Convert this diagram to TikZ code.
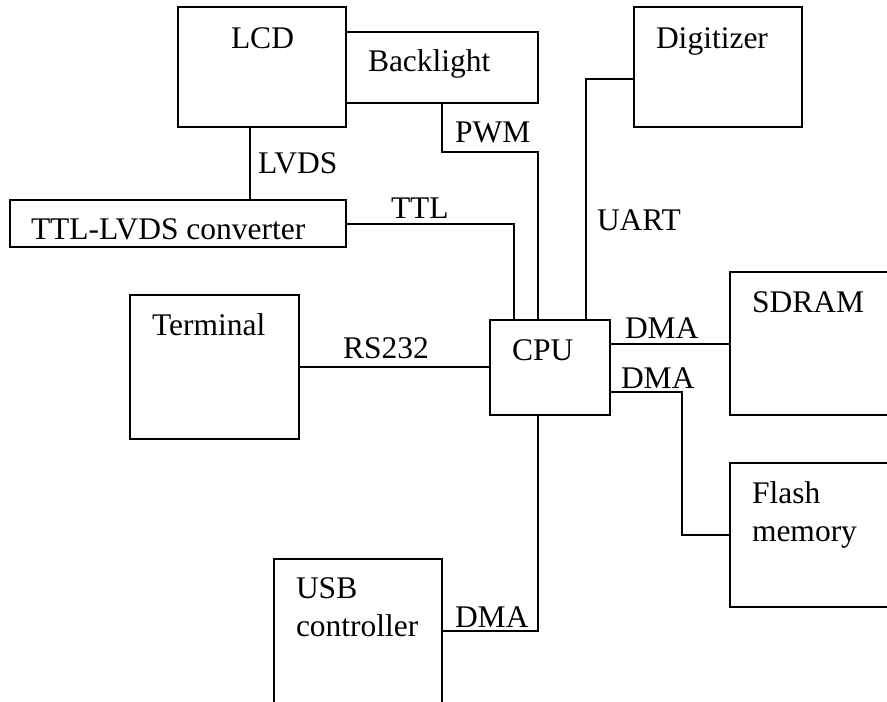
\documentclass[tikz,border=0pt]{standalone}
\usepackage{fontspec}
\setmainfont{Liberation Serif}
\usetikzlibrary{positioning}

\begin{document}
\begin{tikzpicture}[x=1pt, y=-1pt, line width=2pt, font=\fontsize{31.5}{38}\selectfont]
    \tikzstyle{blk}=[draw, rectangle, inner sep=0pt, outer sep=0pt]
    \tikzstyle{lbl}=[inner sep=0pt, anchor=base west, align=left, xshift=21, yshift=-40]
    \tikzstyle{sig}=[inner sep=0pt, anchor=base west]
    \useasboundingbox (0,0) rectangle (887,702);

    \node[blk, minimum width=168, minimum height=120, label={[lbl, xshift=31, yshift=-1]north west:LCD}] (lcd) at (262,67) {};
    \node[blk, minimum width=192, minimum height=71, right=0pt of lcd, label={[lbl]north west:Backlight}] (bl) {};
    \node[blk, minimum width=336, minimum height=47, label={[lbl, xshift=-1, yshift=1]north west:TTL-LVDS converter}] (conv) at (178,223.5) {};
    \node[blk, minimum width=168, minimum height=120, label={[lbl, yshift=-1]north west:Digitizer}] (dig) at (718,67) {};
    \node[blk, minimum width=169, minimum height=144, label={[lbl]north west:Terminal}] (term) at (214.5,367) {};
    \node[blk, minimum width=120, minimum height=95, label={[lbl]north west:CPU}] (cpu) at (550,367.5) {};
    \node[blk, minimum width=190, minimum height=143, label={[lbl]north west:SDRAM}] (sdram) at (825,343.5) {};
    \node[blk, minimum width=190, minimum height=144, label={[lbl, yshift=-38]north west:{Flash\\memory}}] (flash) at (825,535) {};
    \node[blk, minimum width=168, minimum height=160, label={[lbl, yshift=-37]north west:{USB\\controller}}] (usb) at (358,639) {};

    \draw ([xshift=-12]lcd.south) coordinate (lv) -- (lv |- conv.north) node[sig, at start, xshift=7, yshift=-46] (lvds) {LVDS};
    \draw (conv.east) -| ([xshift=-36]cpu.north) node[sig, at start, xshift=44, yshift=5.5] (ttl) {TTL};
    \draw (bl.south) -- node[sig, at start, xshift=12, yshift=-40] (pwm) {PWM} ++(0,49) -| ([xshift=-12]cpu.north);
    \draw ([yshift=-12]dig.west) -| ([xshift=36]cpu.north) node[sig, at end, xshift=10, yshift=90] (uart) {UART};
    \draw (term.east) -- (term.east -| cpu.west) node[sig, at start, xshift=43, yshift=9] (rs) {RS232};
    \draw (cpu.east |- sdram.west) -- (sdram.west) node[sig, at start, xshift=14, yshift=5.5] (dma1) {DMA};
    \draw ([yshift=-24]cpu.east) -- node[sig, at start, xshift=10, yshift=3.5] (dma2) {DMA} ++(72,0) |- (flash.west);
    \draw ([yshift=8]usb.east) -| ([xshift=-12]cpu.south) node[sig, at start, xshift=12, yshift=4] (dma3) {DMA};
\end{tikzpicture}
\end{document}
